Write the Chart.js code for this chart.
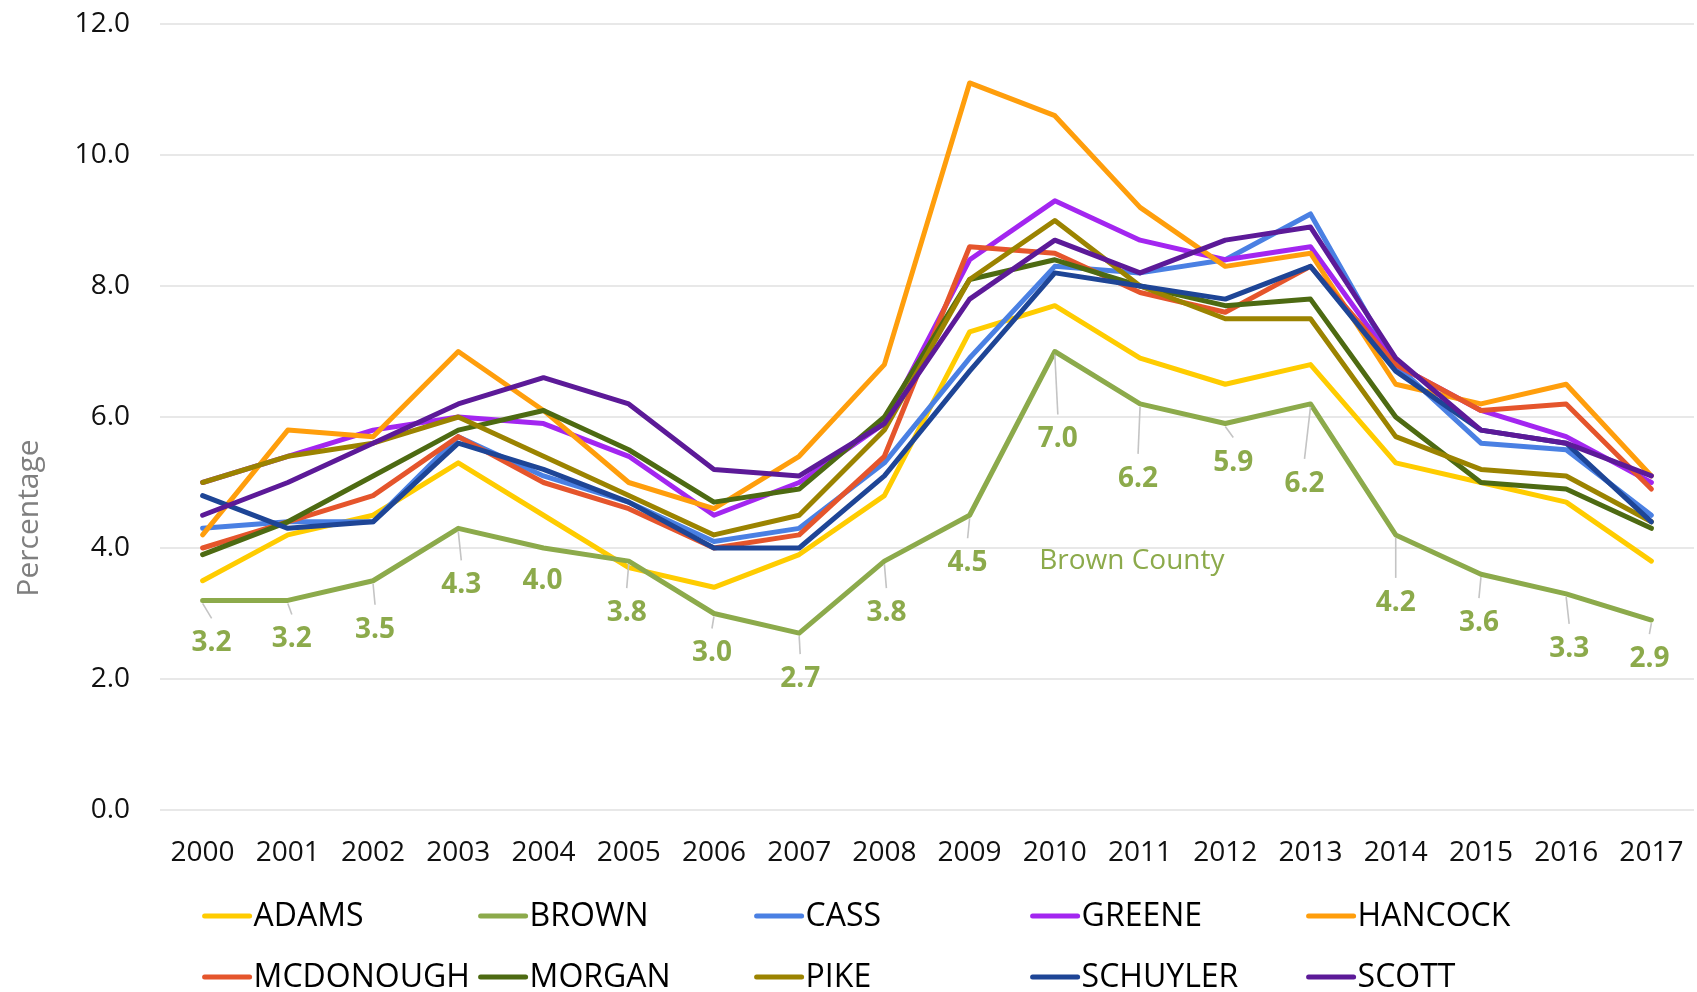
<!DOCTYPE html>
<html>
<head>
<meta charset="utf-8">
<script src="https://cdn.jsdelivr.net/npm/chart.js@4.4.1/dist/chart.umd.min.js"></script>
<style>
  html, body { margin: 0; padding: 0; background: #ffffff; }
  #wrap { width: 1697px; height: 992px; position: relative; }
</style>
</head>
<body>
<div id="wrap"><canvas id="c"></canvas></div>
<script>
// ---------------- DATA ----------------
const years = ['2000','2001','2002','2003','2004','2005','2006','2007','2008','2009','2010','2011','2012','2013','2014','2015','2016','2017'];

const adams     = [3.5, 4.2, 4.5, 5.3, 4.5, 3.7, 3.4, 3.9, 4.8, 7.3, 7.7, 6.9, 6.5, 6.8, 5.3, 5.0, 4.7, 3.8];
const brown     = [3.2, 3.2, 3.5, 4.3, 4.0, 3.8, 3.0, 2.7, 3.8, 4.5, 7.0, 6.2, 5.9, 6.2, 4.2, 3.6, 3.3, 2.9];
const cass      = [4.3, 4.4, 4.4, 5.7, 5.1, 4.7, 4.1, 4.3, 5.3, 6.9, 8.3, 8.2, 8.4, 9.1, 6.8, 5.6, 5.5, 4.5];
const greene    = [5.0, 5.4, 5.8, 6.0, 5.9, 5.4, 4.5, 5.0, 5.9, 8.4, 9.3, 8.7, 8.4, 8.6, 6.8, 6.1, 5.7, 5.0];
const hancock   = [4.2, 5.8, 5.7, 7.0, 6.1, 5.0, 4.6, 5.4, 6.8, 11.1, 10.6, 9.2, 8.3, 8.5, 6.5, 6.2, 6.5, 5.1];
const mcdonough = [4.0, 4.4, 4.8, 5.7, 5.0, 4.6, 4.0, 4.2, 5.4, 8.6, 8.5, 7.9, 7.6, 8.3, 6.8, 6.1, 6.2, 4.9];
const morgan    = [3.9, 4.4, 5.1, 5.8, 6.1, 5.5, 4.7, 4.9, 6.0, 8.1, 8.4, 8.0, 7.7, 7.8, 6.0, 5.0, 4.9, 4.3];
const pike      = [5.0, 5.4, 5.6, 6.0, 5.4, 4.8, 4.2, 4.5, 5.8, 8.1, 9.0, 8.0, 7.5, 7.5, 5.7, 5.2, 5.1, 4.4];
const schuyler  = [4.8, 4.3, 4.4, 5.6, 5.2, 4.7, 4.0, 4.0, 5.1, 6.7, 8.2, 8.0, 7.8, 8.3, 6.7, 5.8, 5.6, 4.4];
const scott     = [4.5, 5.0, 5.6, 6.2, 6.6, 6.2, 5.2, 5.1, 5.9, 7.8, 8.7, 8.2, 8.7, 8.9, 6.9, 5.8, 5.6, 5.1];

const seriesNames = ['ADAMS','BROWN','CASS','GREENE','HANCOCK','MCDONOUGH','MORGAN','PIKE','SCHUYLER','SCOTT'];
const seriesValues = [adams, brown, cass, greene, hancock, mcdonough, morgan, pike, schuyler, scott];

const yTicks = [0, 2, 4, 6, 8, 10, 12];
const axisTitle = 'Percentage';
const annotationText = 'Brown County';

// ---------------- STYLE ----------------
const seriesColors = ['#FFCC00','#8CAA4B','#4A80E3','#A326F0','#FF9E0C','#E5552C','#4D6A12','#9B8300','#1E4596','#5C1A98'];
const brownLabelColor = '#8CAA4B';
// label placement offsets (px) relative to each BROWN point
const brownLabelOffsets = [[9,43],[4,39],[2,49],[3,57],[-1,33],[-2,52],[-2,40],[1,46],[2,52],[-2,48],[3,88],[-2,75],[8,39],[-6,80],[0,68],[-2,49],[3,55],[-2,39]];
const annotationAnchor = { index: 10, value: 3.8, dx: 77 };
const FONT = '"Open Sans", "Noto Sans", sans-serif';

const datasets = seriesNames.map((name, i) => ({
  label: name,
  data: seriesValues[i],
  borderColor: seriesColors[i],
  backgroundColor: seriesColors[i],
  borderWidth: 5,
  pointRadius: 0,
  pointHoverRadius: 0,
  tension: 0,
  fill: false,
  borderJoinStyle: 'round',
  borderCapStyle: 'round',
  order: seriesNames.length - i
}));

const decor = {
  id: 'decor',
  afterDatasetsDraw(chart) {
    const ctx = chart.ctx;
    const xs = chart.scales.x, ys = chart.scales.y;
    ctx.save();
    const meta = chart.getDatasetMeta(1);
    meta.data.forEach((pt, i) => {
      const off = brownLabelOffsets[i];
      const lx = pt.x + off[0], ly = pt.y + off[1];
      const y0 = pt.y + 3, y1 = ly - 25;
      if (y1 - y0 > 8) {
        ctx.strokeStyle = '#c4c4c4';
        ctx.lineWidth = 1.6;
        ctx.beginPath();
        ctx.moveTo(pt.x, y0);
        ctx.lineTo(lx, y1);
        ctx.stroke();
      }
      ctx.fillStyle = brownLabelColor;
      ctx.font = 'bold 28px ' + FONT;
      ctx.textAlign = 'center';
      ctx.textBaseline = 'middle';
      ctx.fillText(brown[i].toFixed(1), lx, ly);
    });
    ctx.font = '28px ' + FONT;
    ctx.fillStyle = brownLabelColor;
    ctx.textAlign = 'center';
    ctx.textBaseline = 'middle';
    ctx.fillText(annotationText, xs.getPixelForValue(annotationAnchor.index) + annotationAnchor.dx, ys.getPixelForValue(annotationAnchor.value));
    ctx.restore();
  },
  afterDraw(chart) {
    const ctx = chart.ctx;
    const xs = chart.scales.x;
    ctx.save();
    ctx.translate(29, 518);
    ctx.rotate(-Math.PI / 2);
    ctx.font = '30px ' + FONT;
    ctx.fillStyle = '#7f7f7f';
    ctx.textAlign = 'center';
    ctx.textBaseline = 'middle';
    ctx.fillText(axisTitle, 0, 0);
    ctx.restore();

    ctx.save();
    const startX = xs.getPixelForValue(0);
    const colW = 276, rowH = 61;
    const rowY0 = 916;
    chart.data.datasets.forEach((ds, i) => {
      const col = i % 5, row = Math.floor(i / 5);
      const x = startX + col * colW;
      const y = rowY0 + row * rowH;
      ctx.strokeStyle = ds.borderColor;
      ctx.lineWidth = 5;
      ctx.lineCap = 'round';
      ctx.beginPath();
      ctx.moveTo(x + 2, y);
      ctx.lineTo(x + 47, y);
      ctx.stroke();
      ctx.fillStyle = '#000000';
      ctx.font = '32px ' + FONT;
      ctx.textAlign = 'left';
      ctx.textBaseline = 'middle';
      ctx.fillText(ds.label, x + 51, y + 1);
    });
    ctx.restore();
  }
};

new Chart(document.getElementById('c'), {
  type: 'line',
  data: { labels: years, datasets: datasets },
  options: {
    responsive: true,
    maintainAspectRatio: false,
    animation: false,
    layout: { padding: { top: 24, right: 3, bottom: 0, left: 0 } },
    plugins: {
      legend: { display: false },
      tooltip: { enabled: false },
      title: { display: false }
    },
    scales: {
      x: {
        type: 'category',
        offset: true,
        grid: { display: false, drawTicks: false },
        border: { display: false },
        ticks: {
          font: { family: FONT, size: 28 },
          color: '#111111',
          padding: 26,
          autoSkip: false,
          maxRotation: 0,
          minRotation: 0
        },
        afterFit(scale) { scale.height = 182; scale.paddingLeft = 0; scale.paddingRight = 0; }
      },
      y: {
        min: 0,
        max: 12,
        afterBuildTicks(scale) { scale.ticks = yTicks.map(v => ({ value: v })); },
        grid: { color: '#e8e8e8', lineWidth: 2, drawTicks: false },
        border: { display: false },
        ticks: {
          font: { family: FONT, size: 28 },
          color: '#111111',
          padding: 30,
          callback: (v) => Number(v).toFixed(1)
        },
        afterFit(scale) { scale.width = 160; scale.paddingTop = 0; scale.paddingBottom = 0; }
      }
    }
  },
  plugins: [decor]
});
</script>
</body>
</html>
